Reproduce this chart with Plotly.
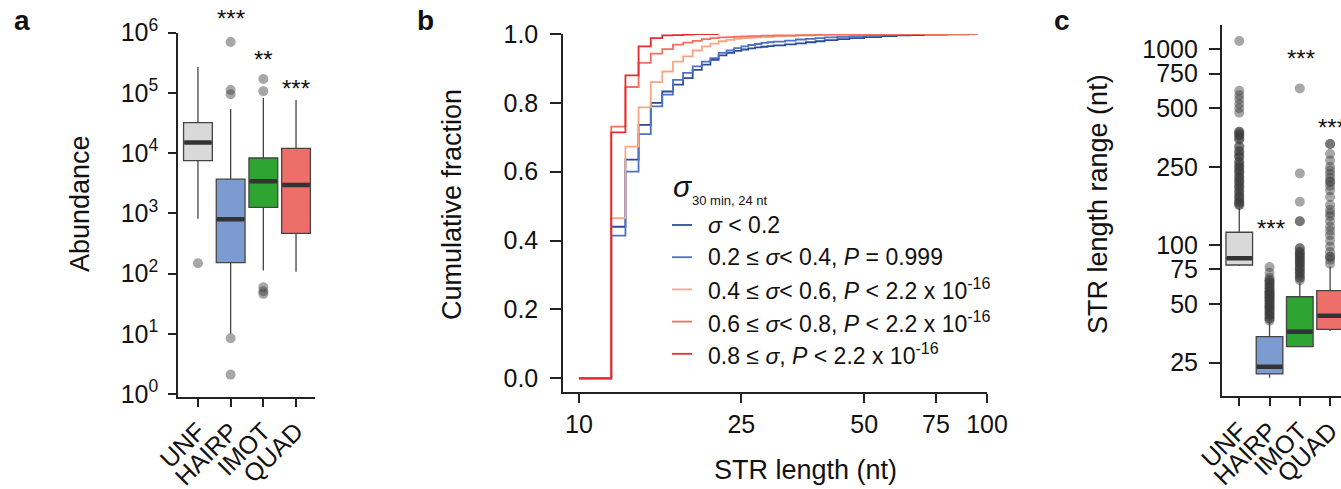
import math
import plotly.graph_objects as go

W, H = 1341, 489
FONT = "Liberation Sans, Arial, Helvetica, sans-serif"
AXIS_COLOR = "#222222"

# ---------------- panel a: abundance per structure class ----------------
CATS = ["UNF", "HAIRP", "IMOT", "QUAD"]
BOX_FILL = ["#d9d9d9", "#7b9bd1", "#2ea432", "#ee6e6a"]

ABUND_LO = [810, 10, 112, 107]
ABUND_Q1 = [7500, 152, 1260, 465]
ABUND_MED = [15000, 800, 3400, 2950]
ABUND_Q3 = [32000, 3700, 8300, 12000]
ABUND_HI = [270000, 54000, 82000, 76000]
ABUND_OUT_UNF = [148]
ABUND_OUT_HAIRP = [700000, 112000, 95000, 8.4, 2.1]
ABUND_OUT_IMOT = [170000, 107000, 59, 51, 46]
ABUND_OUT_QUAD = []
ABUND_STARS = ["", "***", "**", "***"]

# ---------------- panel b: cumulative STR length distributions ----------------
LENGTHS = [10, 11, 12, 13, 14, 15, 16, 17, 18, 19, 20, 21, 22, 23, 24, 25, 26, 27,
           28, 29, 30, 32, 34, 36, 38, 40, 43, 46, 50, 55, 60, 65, 70, 80, 90, 95]
CDF_S00 = [0, 0, 0.440, 0.635, 0.736, 0.800, 0.833, 0.853, 0.872, 0.896, 0.911,
           0.925, 0.938, 0.945, 0.951, 0.955, 0.958, 0.961, 0.963, 0.965, 0.967,
           0.970, 0.973, 0.976, 0.979, 0.982, 0.985, 0.988, 0.991, 0.994, 0.996,
           0.997, 0.998, 0.999, 1.0, 1.0]
CDF_S02 = [0, 0, 0.414, 0.600, 0.709, 0.790, 0.824, 0.867, 0.887, 0.906, 0.920,
           0.930, 0.945, 0.952, 0.959, 0.964, 0.968, 0.971, 0.974, 0.976, 0.978,
           0.981, 0.984, 0.986, 0.988, 0.990, 0.992, 0.994, 0.995, 0.997, 0.998,
           0.999, 0.999, 1.0, 1.0, 1.0]
CDF_S04 = [0, 0, 0.465, 0.673, 0.787, 0.860, 0.891, 0.920, 0.935, 0.952, 0.964,
           0.972, 0.979, 0.983, 0.986, 0.988, 0.989, 0.990, 0.991, 0.992, 0.993,
           0.994, 0.995, 0.996, 0.997, 0.998, 0.998, 0.999, 0.999, 1.0, 1.0,
           1.0, 1.0, 1.0, 1.0, 1.0]
CDF_S06 = [0, 0, 0.731, 0.846, 0.916, 0.943, 0.956, 0.969, 0.975, 0.980, 0.985,
           0.988, 0.990, 0.991, 0.992, 0.993, 0.994, 0.994, 0.995, 0.995, 0.996,
           0.996, 0.997, 0.997, 0.998, 0.998, 0.999, 0.999, 1.0, 1.0, 1.0,
           1.0, 1.0, 1.0, 1.0, 1.0]
CDF_S08 = [0, 0, 0.714, 0.880, 0.964, 0.988, 0.996, 0.997, 0.998, 1.0, 1.0, 1.0, 1.0]
CDF_COLORS = ["#2a4a9b", "#4d72c4", "#f8a683", "#f0705f", "#e52a30"]
CDF_LABELS = [
    "<i>σ</i> < 0.2",
    "0.2 ≤ <i>σ</i>< 0.4, <i>P</i> = 0.999",
    "0.4 ≤ <i>σ</i>< 0.6, <i>P</i> < 2.2 x 10<sup>-16</sup>",
    "0.6 ≤ <i>σ</i>< 0.8, <i>P</i> < 2.2 x 10<sup>-16</sup>",
    "0.8 ≤ <i>σ</i>, <i>P</i> < 2.2 x 10<sup>-16</sup>",
]
LEN_TICKS = [10, 25, 50, 75, 100]
FRAC_TICKS = [0.0, 0.2, 0.4, 0.6, 0.8, 1.0]

# ---------------- panel c: STR length range per structure class ----------------
RANGE_LO = [78, 20.9, 30.2, 36.3]
RANGE_Q1 = [78.9, 21.9, 30.2, 37]
RANGE_MED = [85.4, 23.8, 36, 43.4]
RANGE_Q3 = [116, 34, 54.3, 58.3]
RANGE_HI = [154, 40.4, 64, 77.5]
RANGE_OUT_UNF = [1103, 614, 583, 555, 525, 499, 474, 379, 379, 372, 365, 365, 356,
                 347, 347, 318, 318, 300, 300, 290, 282, 282, 266, 266, 258, 251,
                 251, 244, 237, 237, 230, 223, 223, 217, 211, 211, 205, 199, 199,
                 193, 187, 187, 181, 176, 176, 171, 166, 166, 163, 160, 160]
RANGE_OUT_HAIRP = [77, 72, 68, 66, 66, 64, 64, 62, 62, 60, 60, 58, 58, 57, 56, 56,
                   55, 54, 54, 53, 52, 52, 51, 50, 50, 49, 48, 48, 47, 46, 46, 45,
                   44, 44, 43, 42, 42, 41]
RANGE_OUT_IMOT = [631, 232, 166, 132, 132, 96, 96, 92, 92, 90, 88, 88, 86, 84, 84,
                  82, 80, 80, 78, 76, 76, 74, 72, 72, 70, 68, 68, 66]
RANGE_OUT_QUAD = [328, 328, 292, 270, 251, 240, 230, 220, 210, 210, 200, 190, 176,
                  160, 151, 145, 140, 132, 124, 118, 112, 105, 98, 92, 87, 87, 84, 80]
RANGE_TICKS = [25, 50, 75, 100, 250, 500, 750, 1000]
RANGE_STARS = ["", "***", "***", "***"]

BOX_WIDTH = 0.88
OUT_COLOR = "rgba(60,60,60,0.45)"


def px_x(p):
    return p / W


def px_y(p):
    return 1 - p / H


fig = go.Figure()


def add_boxes(xa, ya, lo, q1, med, q3, hi, outliers):
    for i, cat in enumerate(CATS):
        fig.add_trace(go.Box(
            x=[i], lowerfence=[lo[i]], q1=[q1[i]], median=[med[i]], q3=[q3[i]],
            upperfence=[hi[i]], width=BOX_WIDTH, whiskerwidth=0,
            fillcolor=BOX_FILL[i], line=dict(color="#444444", width=1.3),
            boxpoints=False, hoverinfo="skip", showlegend=False,
            xaxis=xa, yaxis=ya,
        ))
    # thick median bars
    mx, my = [], []
    for i in range(len(CATS)):
        mx += [i - BOX_WIDTH / 2 + 0.02, i + BOX_WIDTH / 2 - 0.02, None]
        my += [med[i], med[i], None]
    fig.add_trace(go.Scatter(x=mx, y=my, mode="lines", line=dict(color="#333333", width=4.5),
                             hoverinfo="skip", showlegend=False, xaxis=xa, yaxis=ya))
    ox, oy = [], []
    for i, vals in enumerate(outliers):
        ox += [i] * len(vals)
        oy += vals
    fig.add_trace(go.Scatter(x=ox, y=oy, mode="markers",
                             marker=dict(size=10, color=OUT_COLOR, line=dict(width=0)),
                             hoverinfo="skip", showlegend=False, xaxis=xa, yaxis=ya))


add_boxes("x", "y", ABUND_LO, ABUND_Q1, ABUND_MED, ABUND_Q3, ABUND_HI,
          [ABUND_OUT_UNF, ABUND_OUT_HAIRP, ABUND_OUT_IMOT, ABUND_OUT_QUAD])
add_boxes("x3", "y3", RANGE_LO, RANGE_Q1, RANGE_MED, RANGE_Q3, RANGE_HI,
          [RANGE_OUT_UNF, RANGE_OUT_HAIRP, RANGE_OUT_IMOT, RANGE_OUT_QUAD])

for vals, col in zip([CDF_S00, CDF_S02, CDF_S04, CDF_S06, CDF_S08], CDF_COLORS):
    fig.add_trace(go.Scatter(x=LENGTHS[:len(vals)], y=vals, mode="lines",
                             line=dict(color=col, width=1.8, shape="hv"),
                             hoverinfo="skip", showlegend=False, xaxis="x2", yaxis="y2"))

axis_common = dict(showline=True, linecolor=AXIS_COLOR, linewidth=1.5, showgrid=False,
                   zeroline=False, ticks="outside", tickcolor=AXIS_COLOR, tickwidth=1.5,
                   automargin=False, ticklabeloverflow="allow",
                   tickfont=dict(family=FONT, size=25, color="#111111"))

fig.update_layout(
    template="none",
    width=W, height=H, margin=dict(l=0, r=0, t=0, b=0, pad=0), autosize=False,
    paper_bgcolor="white", plot_bgcolor="white", showlegend=False,
    font=dict(family=FONT, color="#111111"),
    xaxis=dict(axis_common, domain=[px_x(178), px_x(315)], range=[-0.61, 3.58],
               tickvals=list(range(len(CATS))), ticktext=CATS, tickangle=-45, ticklen=8),
    yaxis=dict(axis_common, domain=[px_y(397), px_y(32.7)], type="log", range=[-0.05, 6.0],
               tickvals=[10 ** k for k in range(7)],
               ticktext=["10<sup>%d</sup>" % k for k in range(7)], ticklen=8,
               ticklabelstandoff=5),
    xaxis2=dict(axis_common, domain=[px_x(563), px_x(987)], type="log",
                range=[math.log10(9.14), 2.0], tickvals=LEN_TICKS,
                ticktext=[str(t) for t in LEN_TICKS], ticklen=9, anchor="y2"),
    yaxis2=dict(axis_common, domain=[px_y(392), px_y(34)], range=[-0.04, 1.0],
                tickvals=FRAC_TICKS, ticktext=["%.1f" % t for t in FRAC_TICKS],
                ticklen=11, ticklabelstandoff=7, anchor="x2"),
    xaxis3=dict(axis_common, domain=[px_x(1221.7), 1.0], range=[-0.58, 3.36],
                tickvals=list(range(len(CATS))), ticktext=CATS, tickangle=-45, ticklen=9,
                anchor="y3"),
    yaxis3=dict(axis_common, domain=[px_y(395.7), px_y(25)], type="log",
                range=[1.229, 3.124], tickvals=RANGE_TICKS,
                ticktext=[str(t) for t in RANGE_TICKS], ticklen=11, ticklabelstandoff=6,
                anchor="x3"),
)

ann = []


def text(x, y, s, size, xanchor="center", **kw):
    d = dict(x=px_x(x), y=px_y(y), xref="paper", yref="paper", text=s, showarrow=False,
             xanchor=xanchor, yanchor="middle",
             font=dict(family=FONT, size=size, color="#111111"))
    d.update(kw)
    ann.append(d)


# panel letters
text(22, 21, "<b>a</b>", 28)
text(425, 21, "<b>b</b>", 28)
text(1062, 21, "<b>c</b>", 28)

# axis titles
text(80, 204, "Abundance", 27, textangle=-90)
text(452, 205, "Cumulative fraction", 27, textangle=-90)
text(805, 470, "STR length (nt)", 27)
text(1098, 204, "STR length range (nt)", 27, textangle=-90)

# significance stars
for i, s in enumerate(ABUND_STARS):
    if s:
        ann.append(dict(x=i, xref="x", y=[px_y(19), px_y(60), px_y(88)][i - 1], yref="paper",
                        xanchor="center", yanchor="middle",
                        text=s, showarrow=False, font=dict(family=FONT, size=24, color="#111111")))
for i, s in enumerate(RANGE_STARS):
    if s:
        ann.append(dict(x=i + 0.05, xref="x3", y=[px_y(228), px_y(58), px_y(128)][i - 1],
                        yref="paper", xanchor="center", yanchor="middle", text=s,
                        showarrow=False, font=dict(family=FONT, size=24, color="#111111")))

# legend of panel b
text(671, 186, "<i>σ</i>", 30, xanchor="left")
text(690, 200, "30 min, 24 nt", 13, xanchor="left")
shapes = []
for k, (lab, col) in enumerate(zip(CDF_LABELS, CDF_COLORS)):
    yy = 225 + 32.2 * k
    shapes.append(dict(type="line", xref="paper", yref="paper", x0=px_x(672), x1=px_x(692),
                       y0=px_y(yy), y1=px_y(yy), line=dict(color=col, width=1.8)))
    text(706, yy, lab, 23, xanchor="left")

fig.update_layout(annotations=ann, shapes=shapes)
fig.write_html("out.html", include_plotlyjs=True, config={"displayModeBar": False})
